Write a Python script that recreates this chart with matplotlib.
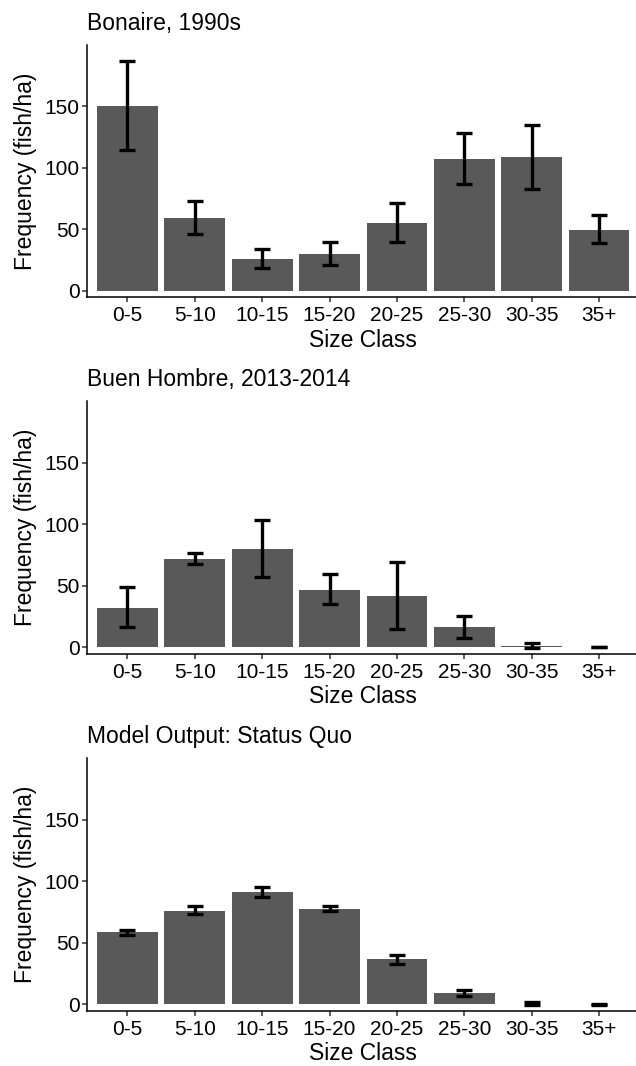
import numpy as np
import matplotlib
matplotlib.use("Agg")
from matplotlib import pyplot as plt

plt.rcParams['font.family'] = ['Liberation Sans', 'DejaVu Sans']

size_classes = ['0-5', '5-10', '10-15', '15-20', '20-25', '25-30', '30-35', '35+']

# Bonaire, 1990s
bonaire_mean = [150, 59.6, 25.7, 30.3, 55, 107.5, 109.1, 49.8]
bonaire_lo = [114.3, 46, 19, 20.9, 39.5, 87.2, 82.9, 39]
bonaire_hi = [186.6, 72.8, 33.8, 40.1, 71.2, 128.6, 135.1, 61.7]

# Buen Hombre, 2013-2014
buen_mean = [32.2, 71.8, 79.9, 46.8, 41.7, 16.2, 1.2, 0]
buen_lo = [16.5, 67.4, 57.1, 35.5, 14.9, 7.6, -0.8, 0]
buen_hi = [48.7, 76.9, 103.4, 59.3, 69.3, 25.7, 3.6, 0]

# Model output: status quo
model_mean = [58.6, 76.2, 90.9, 77.8, 36.6, 9.2, 0.4, 0.1]
model_lo = [56.1, 73.2, 86.8, 75.9, 33.1, 7.1, -0.9, -0.4]
model_hi = [60.5, 79.5, 95.5, 79.7, 40.1, 11.7, 1.6, 0.6]

titles = ['Bonaire, 1990s', 'Buen Hombre, 2013-2014', 'Model Output: Status Quo']
panels = [(bonaire_mean, bonaire_lo, bonaire_hi),
          (buen_mean, buen_lo, buen_hi),
          (model_mean, model_lo, model_hi)]

W, H = 636, 1066
fig = plt.figure(figsize=(W / 100, H / 100), dpi=100)

left = 87 / W
width = (639.5 - 87) / W
height = 252.3 / H
bottoms = [1 - 297.3 / H, 1 - 653.7 / H, 1 - 1010.7 / H]

x = np.arange(len(size_classes))
for (mean, lo, hi), title, b in zip(panels, titles, bottoms):
    ax = fig.add_axes([left, b, width, height])
    mean = np.array(mean)
    err = np.array([mean - np.array(lo), np.array(hi) - mean])
    ax.bar(x, mean, width=0.9, color='#595959', edgecolor='none')
    ax.errorbar(x, mean, yerr=err, fmt='none', ecolor='black',
                elinewidth=2.4, capsize=6.1, capthick=2.4)
    ax.set_xlim(-0.6, 7.6)
    ax.set_ylim(-5.2, 199.8)
    ax.set_yticks([0, 50, 100, 150])
    ax.set_xticks(x)
    ax.set_xticklabels(size_classes)
    for s in ['top', 'right']:
        ax.spines[s].set_visible(False)
    for s in ['left', 'bottom']:
        ax.spines[s].set_linewidth(1.1)
    ax.tick_params(axis='both', labelsize=15, length=3.4, width=1.1,
                   color='#333333')
    ax.tick_params(axis='x', pad=3)
    ax.tick_params(axis='y', pad=2)
    ax.set_xlabel('Size Class', fontsize=16.5, labelpad=2.5)
    ax.set_ylabel('Frequency (fish/ha)', fontsize=16.5, labelpad=5.5)
    ax.set_title(title, loc='left', fontsize=16.5, pad=11)

fig.savefig('out.png', dpi=100)
